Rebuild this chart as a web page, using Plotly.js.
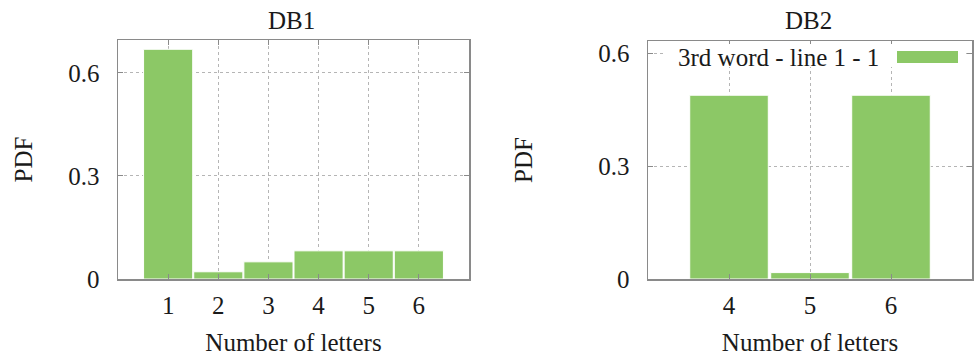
<!DOCTYPE html>
<html>
<head>
<meta charset="utf-8">
<script src="https://cdn.plot.ly/plotly-3.0.1.min.js"></script>
<style>html,body{margin:0;padding:0;background:#fff;}#chart{width:975px;height:360px;}</style>
</head>
<body>
<div id="chart"></div>
<script>
// ---- data ----
const db1Letters = [1, 2, 3, 4, 5, 6];
const db1Pdf = [0.669, 0.021, 0.050, 0.082, 0.082, 0.082];
const db2Letters = [4, 5, 6];
const db2Pdf = [0.488, 0.017, 0.488];
const yTickVals = [0, 0.3, 0.6];
const yTickText = ['0', '0.3', '0.6'];
const seriesName = '3rd word - line 1 - 1';
const panelTitles = ['DB1', 'DB2'];
const xTitle = 'Number of letters';
const yTitle = 'PDF';

const W = 975, H = 360;
const green = '#8cc866';
const frame = '#8a8a8a';
const font = {family: "'Liberation Serif', 'Times New Roman', serif", size: 25, color: '#1a1a1a'};

function px(x) { return x / W; }
function py(y) { return 1 - y / H; }

const traces = [
  {type: 'bar', x: db1Letters, y: db1Pdf, width: 0.98, name: seriesName, showlegend: false,
   marker: {color: green, line: {color: '#ffffff', width: 1}}, xaxis: 'x', yaxis: 'y'},
  {type: 'bar', x: db2Letters, y: db2Pdf, width: 0.97, name: seriesName, showlegend: false,
   marker: {color: green, line: {color: '#ffffff', width: 1}}, xaxis: 'x2', yaxis: 'y2'}
];

function xax(domain, range, ticks, anchor) {
  return {domain: domain, range: range, anchor: anchor, tickvals: ticks, ticktext: ticks.map(String),
    showline: true, linecolor: frame, linewidth: 1.5, mirror: 'ticks', ticks: 'inside', ticklen: 5,
    tickcolor: frame, showgrid: true, gridcolor: '#b5b5b5', griddash: 'dot', gridwidth: 1,
    zeroline: false, tickfont: font, ticklabelstandoff: 3,
    title: {text: xTitle, font: font, standoff: 16}, fixedrange: true};
}
function yax(domain, range, anchor, standoff) {
  return {domain: domain, range: range, anchor: anchor, tickvals: yTickVals, ticktext: yTickText,
    showline: true, linecolor: frame, linewidth: 1.5, mirror: 'ticks', ticks: 'inside', ticklen: 5,
    tickcolor: frame, showgrid: true, gridcolor: '#b5b5b5', griddash: 'dot', gridwidth: 1,
    zeroline: false, tickfont: font, ticklabelstandoff: 12,
    title: {text: yTitle, font: font, standoff: standoff}, fixedrange: true};
}

const layout = {
  width: W, height: H,
  margin: {l: 0, r: 0, t: 0, b: 0},
  paper_bgcolor: '#fff', plot_bgcolor: '#fff',
  font: font,
  showlegend: false,
  bargap: 0,
  xaxis: xax([px(118), px(469)], [0, 7], db1Letters, 'y'),
  yaxis: yax([py(279), py(40)], [0, 0.696], 'x', 28),
  xaxis2: xax([px(648), px(972)], [3, 7], db2Letters, 'y2'),
  yaxis2: yax([py(279), py(41)], [0, 0.632], 'x2', 58),
  annotations: [
    {text: panelTitles[0], x: px(291), y: py(20), xref: 'paper', yref: 'paper', showarrow: false, font: font, xanchor: 'center', yanchor: 'middle'},
    {text: panelTitles[1], x: px(808), y: py(20), xref: 'paper', yref: 'paper', showarrow: false, font: font, xanchor: 'center', yanchor: 'middle'},
    {text: seriesName, x: px(881), y: py(57), xref: 'paper', yref: 'paper', showarrow: false, font: font, xanchor: 'right', yanchor: 'middle'}
  ],
  shapes: [
    {type: 'rect', xref: 'paper', yref: 'paper', x0: px(665), x1: px(966), y0: py(67), y1: py(44), fillcolor: '#fff', line: {width: 0}, layer: 'above'},
    {type: 'rect', xref: 'paper', yref: 'paper', x0: px(897), x1: px(958), y0: py(63), y1: py(51), fillcolor: green, line: {width: 0}, layer: 'above'}
  ]
};

Plotly.newPlot('chart', traces, layout, {staticPlot: true, displayModeBar: false});
</script>
</body>
</html>
